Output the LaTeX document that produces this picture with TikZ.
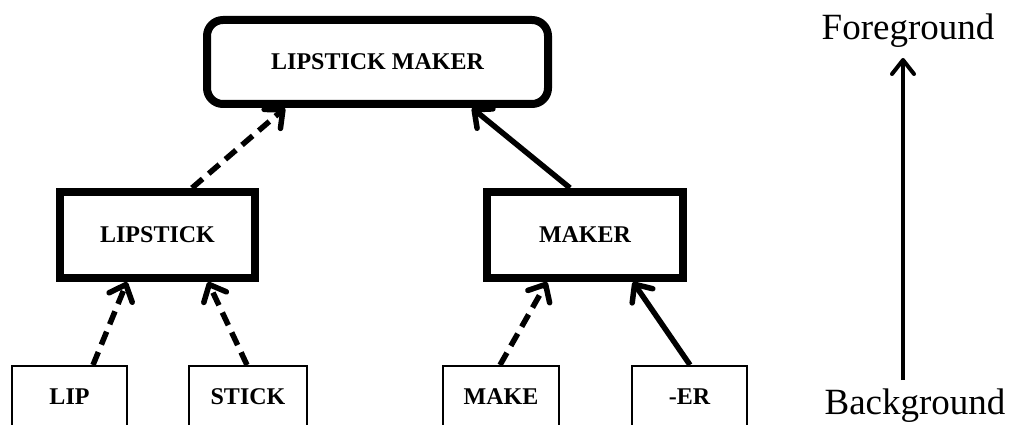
\documentclass[tikz,border=0pt]{standalone}
\usepackage{fontspec}
\setmainfont{Liberation Serif}
\usetikzlibrary{arrows.meta}
\begin{document}
\begin{tikzpicture}[x=1pt,y=-1pt,
  lbl/.style={font=\bfseries\fontsize{24}{24}\selectfont},
  bigbox/.style={draw, line width=8pt, lbl, inner sep=0pt},
  smallbox/.style={draw, line width=2pt, lbl, anchor=north, inner xsep=0pt,
     inner ysep=22pt, text height=16pt, text depth=40pt, minimum width=115pt},
  conn/.style={line width=5.5pt, -{Straight Barb[length=14pt,width=25pt,line cap=round,line join=round]}},
  dashconn/.style={conn, dash pattern=on 14pt off 8pt},
  side/.style={font=\fontsize{37}{37}\selectfont, inner sep=0pt}
]
\useasboundingbox (0,0) rectangle (1011,425);
\clip (0,0) rectangle (1011,425);

\node[bigbox, rounded corners=16pt, minimum width=341pt, minimum height=84pt] (top) at (377.5,62) {LIPSTICK MAKER};
\node[bigbox, minimum width=195pt, minimum height=86pt] (lipstick) at (157.5,235) {LIPSTICK};
\node[bigbox, minimum width=196pt, minimum height=86pt] (maker) at (585,235) {MAKER};

\node[smallbox] (lip) at (69.5,365) {LIP};
\node[smallbox, minimum width=118pt] (stick) at (248,365) {STICK};
\node[smallbox, minimum width=116pt] (make) at (501,365) {MAKE};
\node[smallbox] (er) at (689.5,365) {-ER};

\draw[dashconn] ([xshift=34.5pt]lipstick.north) -- ([xshift=-92.5pt]top.south);
\draw[conn] ([xshift=-15pt]maker.north) -- ([xshift=94.5pt]top.south);

\draw[dashconn] ([xshift=23.5pt]lip.north) -- ([xshift=-30.5pt]lipstick.south);
\draw[dashconn] ([xshift=-1pt]stick.north) -- ([xshift=50.5pt]lipstick.south);
\draw[dashconn] ([xshift=-1pt]make.north) -- ([xshift=-38pt]maker.south);
\draw[conn] ([xshift=0.5pt]er.north) -- ([xshift=48pt]maker.south);

\node[side, anchor=base] (fg) at (908,40) {Foreground};
\node[side, anchor=base] (bg) at (915,414) {Background};
\coordinate (fgend) at (903,58);
\coordinate (bgstart) at (903,380);
\draw[line width=4pt, -{Straight Barb[length=14pt,width=22pt,line cap=round,line join=round]}] (bgstart) -- (fgend);
\end{tikzpicture}
\end{document}
